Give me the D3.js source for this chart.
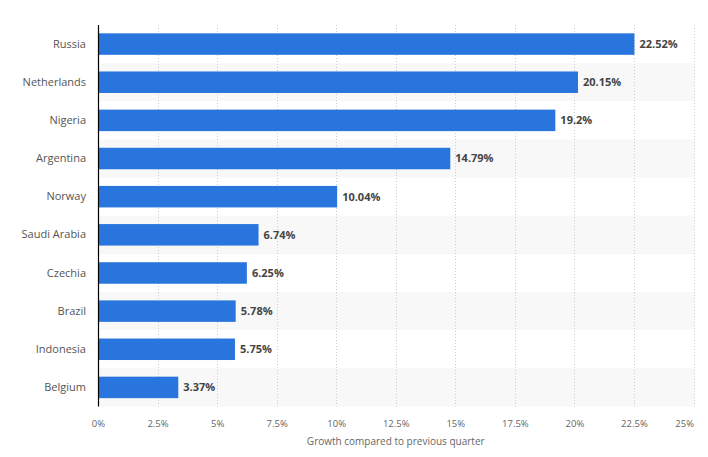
<!DOCTYPE html>
<html><head><meta charset="utf-8">
<script src="https://cdn.jsdelivr.net/npm/d3@7"></script>
<style>body{margin:0;background:#fff}svg{display:block}</style>
</head><body>
<svg id="c" width="708" height="457"></svg>
<script>
const categories = ["Russia","Netherlands","Nigeria","Argentina","Norway","Saudi Arabia","Czechia","Brazil","Indonesia","Belgium"];
const values = [22.52,20.15,19.2,14.79,10.04,6.74,6.25,5.78,5.75,3.37];
const valueLabels = ["22.52%","20.15%","19.2%","14.79%","10.04%","6.74%","6.25%","5.78%","5.75%","3.37%"];
const tickValues = [0,2.5,5,7.5,10,12.5,15,17.5,20,22.5,25];
const tickLabels = ["0%","2.5%","5%","7.5%","10%","12.5%","15%","17.5%","20%","22.5%","25%"];
const axisTitle = "Growth compared to previous quarter";

(function(){
const svg = d3.select("#c");
const mL = 98, mR = 693.5, mT = 25, mB = 406.5;
const x = d3.scaleLinear().domain([0,25]).range([mL,mR]);
const y = d3.scaleBand().domain(categories).range([mT,mB]).paddingInner(0).paddingOuter(0);
const font = "'Open Sans', 'DejaVu Sans', sans-serif";

svg.append("g").selectAll("rect").data(categories).join("rect")
  .attr("x", mL).attr("width", mR - mL + 1)
  .attr("y", d => y(d)).attr("height", y.bandwidth())
  .attr("fill", (d,i) => i % 2 ? "#f8f8f8" : "#ffffff");

svg.append("g").selectAll("line").data(tickValues.slice(1)).join("line")
  .attr("x1", d => Math.round(x(d)) + 0.5).attr("x2", d => Math.round(x(d)) + 0.5)
  .attr("y1", mT).attr("y2", mB)
  .attr("stroke", "#cccccc").attr("stroke-width", 1).attr("stroke-dasharray", "1,2");

const bh = 21.5;
svg.append("g").selectAll("rect").data(values).join("rect")
  .attr("x", x(0)).attr("width", d => x(d) - x(0))
  .attr("y", (d,i) => y(categories[i]) + (y.bandwidth() - bh)/2)
  .attr("height", bh).attr("fill", "#2876dd");

svg.append("g").selectAll("text").data(values).join("text")
  .attr("x", d => x(d) + 5)
  .attr("y", (d,i) => y(categories[i]) + y.bandwidth()/2)
  .attr("dy", "0.35em")
  .attr("font-family", font).attr("font-size", 11).attr("font-weight", "bold")
  .attr("fill", "#444").text((d,i) => valueLabels[i]);

const ya = d3.axisLeft(y).tickSize(0).tickPadding(12);
const yg = svg.append("g").attr("transform", `translate(${mL},0)`).call(ya);
yg.select(".domain").remove();
yg.selectAll("text").attr("font-family", font).attr("font-size", 11).attr("fill", "#555");
svg.append("line").attr("x1", mL + 0.5).attr("x2", mL + 0.5).attr("y1", mT).attr("y2", mB)
  .attr("stroke", "#000").attr("stroke-width", 1.2);

const xa = d3.axisBottom(x).tickValues(tickValues).tickFormat((d,i) => tickLabels[i]).tickSize(0).tickPadding(13.5);
const xg = svg.append("g").attr("transform", `translate(0,${mB})`).call(xa);
xg.select(".domain").remove();
xg.selectAll("text").attr("font-family", font).attr("font-size", 9.5).attr("fill", "#666")
  .attr("text-anchor", (d,i) => i === tickValues.length - 1 ? "end" : "middle")
  .attr("x", (d,i) => i === tickValues.length - 1 ? 0 : 0);

svg.append("text").attr("x", (mL + mR)/2).attr("y", 444.5)
  .attr("text-anchor", "middle").attr("font-family", font).attr("font-size", 10).attr("fill", "#666")
  .text(axisTitle);
})();
</script>
</body></html>
